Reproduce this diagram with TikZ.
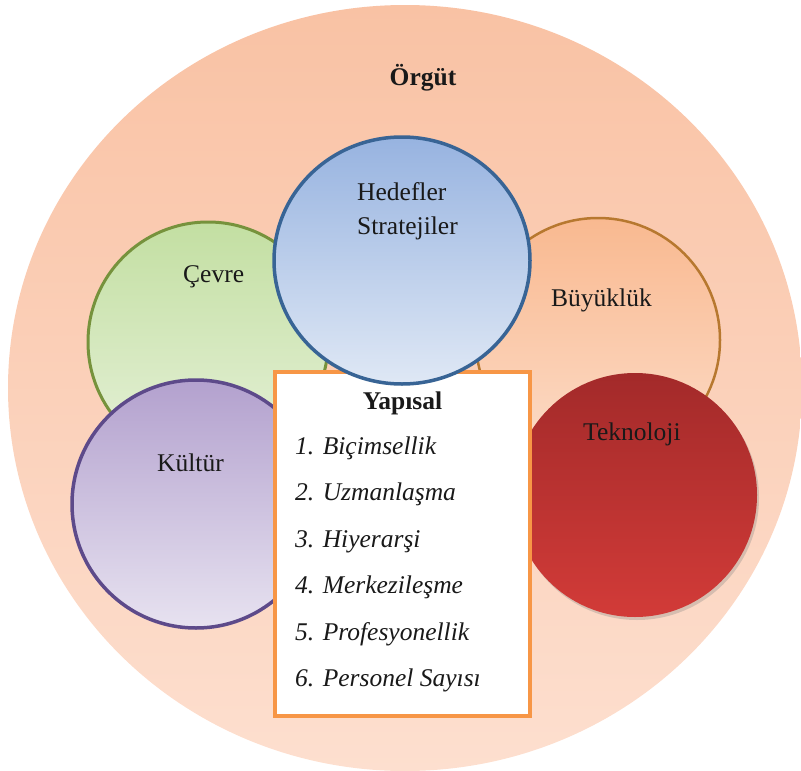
\documentclass[tikz,border=0pt]{standalone}
\usepackage{fontspec}
\setmainfont{Liberation Serif}
\usetikzlibrary{shapes.geometric,shadows}

\definecolor{orgTop}{HTML}{F9C2A4}
\definecolor{orgBot}{HTML}{FDDFCF}
\definecolor{grnTop}{HTML}{C3DFA2}
\definecolor{grnBot}{HTML}{E6F1D9}
\definecolor{grnLine}{HTML}{76923C}
\definecolor{bluTop}{HTML}{97B3E0}
\definecolor{bluBot}{HTML}{DFE8F5}
\definecolor{bluLine}{HTML}{386495}
\definecolor{bykTop}{HTML}{F9B990}
\definecolor{bykBot}{HTML}{FCDCC8}
\definecolor{bykLine}{HTML}{B7782F}
\definecolor{purTop}{HTML}{B3A1CE}
\definecolor{purBot}{HTML}{E7E2F0}
\definecolor{purLine}{HTML}{5D4A8A}
\definecolor{redTop}{HTML}{A32A2A}
\definecolor{redBot}{HTML}{D23B38}
\definecolor{boxLine}{HTML}{F79646}

\begin{document}
\begin{tikzpicture}[x=1pt,y=-1pt,
  disc/.style={circle, inner sep=0pt, minimum size=#1},
  lbl/.style={anchor=base west, inner sep=0pt, text=black!90,
              font=\fontsize{25.5}{30}\selectfont},
  item/.style={lbl, font=\fontsize{25.5}{30}\selectfont\itshape}]
\useasboundingbox (0,0) rectangle (801,771);

% outer organisation circle
\node[ellipse, inner sep=0pt, minimum width=794pt, minimum height=766pt,
      top color=orgTop, bottom color=orgBot] (org) at (405,388) {};
\node[lbl, font=\fontsize{25.5}{30}\selectfont\bfseries, anchor=base] (orgT) at (423,85) {Örgüt};

% surrounding factors
\node[disc=240pt, draw=grnLine, line width=3pt, top color=grnTop, bottom color=grnBot] (cev) at (208,342) {};
\node[disc=244pt, draw=bykLine, line width=2.5pt, top color=bykTop, bottom color=bykBot] (byk) at (598,340) {};
\node[disc=248pt, draw=purLine, line width=3.5pt, top color=purTop, bottom color=purBot] (kul) at (196,504) {};
\node[disc=244pt, top color=redTop, bottom color=redBot,
      drop shadow={shadow xshift=2pt, shadow yshift=-3pt, opacity=0.3}] (tek) at (635,495) {};

% structural box
\node[draw=boxLine, line width=3.5pt, fill=white, inner sep=0pt,
      minimum width=255pt, minimum height=344pt] (yap) at (402.5,544) {};

% goals and strategies, on top of the box
\node[ellipse, inner sep=0pt, minimum width=256pt, minimum height=247pt,
      draw=bluLine, line width=3.5pt, top color=bluTop, bottom color=bluBot] (hed) at (402,260.5) {};

% circle labels
\node[lbl] (hedT) at (357,200) {Hedefler};
\node[lbl] (strT) at (357,234) {Stratejiler};
\node[lbl] (cevT) at (183,282) {Çevre};
\node[lbl] (bykT) at (551,306) {Büyüklük};
\node[lbl] (kulT) at (157,471) {Kültür};
\node[lbl] (tekT) at (583,440) {Teknoloji};

% box contents
\node[lbl, font=\fontsize{25.5}{30}\selectfont\bfseries, anchor=base] (yapT) at (402.5,409) {Yapısal};
\node[item] (i1) at (295,454) {1. Biçimsellik};
\node[item] (i2) at (295,500.5) {2. Uzmanlaşma};
\node[item] (i3) at (295,547) {3. Hiyerarşi};
\node[item] (i4) at (295,593.5) {4. Merkezileşme};
\node[item] (i5) at (295,640) {5. Profesyonellik};
\node[item] (i6) at (295,686) {6. Personel Sayısı};
\end{tikzpicture}
\end{document}
